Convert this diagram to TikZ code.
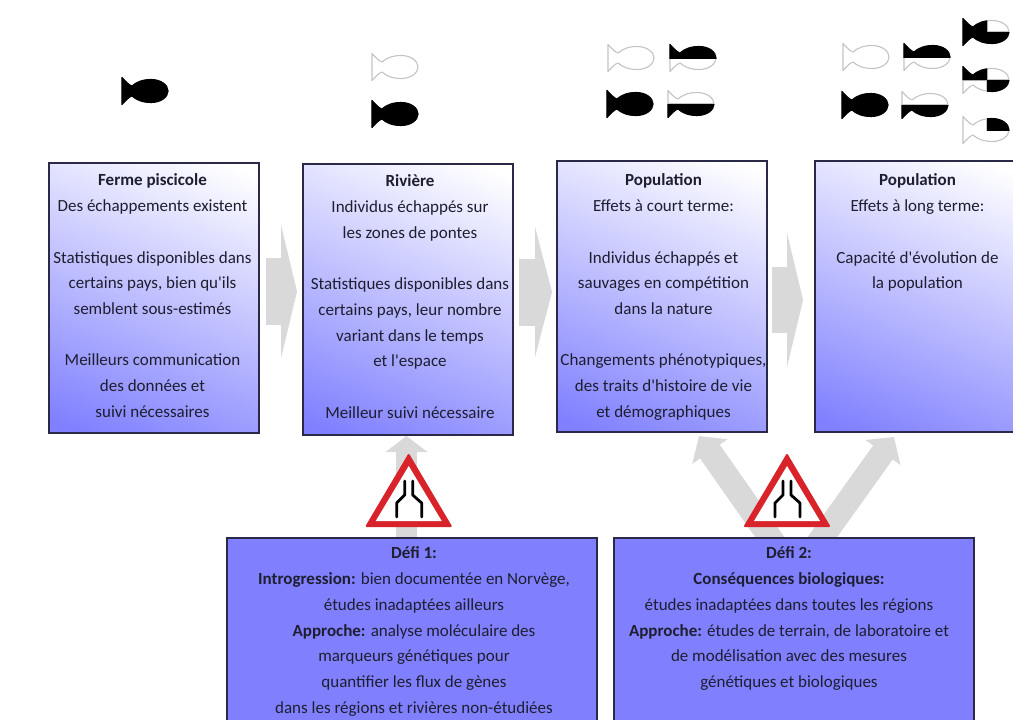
\documentclass[tikz,border=0pt]{standalone}
\usepackage{fontspec}
\setmainfont{Carlito}[Ligatures=TeXOff]
\usetikzlibrary{arrows.meta,backgrounds}
\definecolor{boxblue}{HTML}{8080FF}
\definecolor{edgeink}{HTML}{2A2A48}
\definecolor{txtink}{HTML}{1E1E30}
\definecolor{fatgray}{HTML}{D9D9D9}
\definecolor{fishgray}{HTML}{C4C4C4}
\definecolor{signred}{HTML}{D8232A}
\pgfdeclareverticalshading{boxgrad}{100bp}{color(0bp)=(boxblue); color(20bp)=(boxblue); color(80bp)=(white); color(100bp)=(white)}
\tikzset{
  gradbox/.style={draw=edgeink,line width=1.2pt,inner sep=0pt,outer sep=0pt,text=txtink,
    shading=boxgrad,shading angle=-22},
  flatbox/.style={draw=edgeink,line width=1.2pt,inner sep=0pt,outer sep=0pt,text=txtink,fill=boxblue},
  fat/.style n args={3}{draw=fatgray,line width=#1pt,-{Triangle[length=#2pt,width=#3pt,fill=fatgray]}},
  fishline/.style={draw=fishgray,line width=1.1pt},
}
\newcommand{\tb}[4][6pt]{\parbox[c][#2][t]{#3}{\centering\fontsize{17}{25.7}\selectfont\vspace*{#1}\strut #4}}
\newcommand{\fishpath}{(0,-13.5) .. controls (4,-9) and (7,-6) .. (10,-5) .. controls (14,-8.5) and (20,-11.5) .. (29,-11.5) .. controls (39,-11.5) and (46,-6) .. (46,0) .. controls (46,6) and (39,11.5) .. (29,11.5) .. controls (20,11.5) and (14,8.5) .. (10,5) .. controls (7,6) and (4,9) .. (0,13.5) -- cycle}
\newcommand{\fish}[3]{%
  \begin{scope}[shift={(#1,#2)}]
    \draw[fishline,line join=round] \fishpath;
    \begin{scope}\clip \fishpath; \draw[fishline] #3; \end{scope}
    \begin{scope}\clip #3; \filldraw[black,line width=1.1pt,line join=round] \fishpath; \end{scope}
  \end{scope}}
\newcommand{\sign}[1]{%
  \begin{scope}[shift={(#1,0)}]
    \fill[signred,draw=signred,line width=2pt,line join=round] (0,455) -- (-42,526) -- (42,526) -- cycle;
    \fill[white] (0,466) -- (-33,521) -- (33,521) -- cycle;
    \draw[black,line width=2.8pt,line cap=round,line join=round] (-4,481) -- (-4,495) -- (-12,503) -- (-12,517);
    \draw[black,line width=2.8pt,line cap=round,line join=round] (4,481) -- (4,495) -- (13,503) -- (13,517);
  \end{scope}}
\begin{document}
\begin{tikzpicture}[x=1pt,y=-1pt]
\useasboundingbox (0,0) rectangle (1013,720);
\node[gradbox,minimum width=210pt,minimum height=270pt] (box1) at (154,298) {\hbox to 210pt{\tb[4pt]{268pt}{207pt}{\textbf{Ferme piscicole}\\Des échappements existent\\~\\Statistiques disponibles dans\\certains pays, bien qu'ils\\semblent sous-estimés\\~\\Meilleurs communication\\des données et\\suivi nécessaires}\hss}};
\node[gradbox,minimum width=210pt,minimum height=271pt] (box2) at (408,299.5) {\hbox to 210pt{\hskip4pt\tb[4pt]{269pt}{206pt}{\textbf{Rivière}\\Individus échappés sur\\les zones de pontes\\~\\Statistiques disponibles dans\\certains pays, leur nombre\\variant dans le temps\\et l'espace\\~\\Meilleur suivi nécessaire}\hss}};
\node[gradbox,minimum width=210pt,minimum height=271pt] (box3) at (662,296.5) {\hbox to 210pt{\hskip3pt\tb{269pt}{207pt}{\textbf{Population}\\Effets à court terme:\\~\\Individus échappés et\\sauvages en compétition\\dans la nature\\~\\Changements phénotypiques,\\des traits d'histoire de vie\\et démographiques}\hss}};
\node[gradbox,minimum width=205pt,minimum height=271pt] (box4) at (917.5,296.5) {\tb{269pt}{203pt}{\textbf{Population}\\Effets à long terme:\\~\\Capacité d'évolution de\\la population}};
\node[flatbox,minimum width=370pt,minimum height=192pt] (defi1) at (412,634) {\hbox to 370pt{\hskip4pt\tb[2pt]{190pt}{366pt}{\textbf{Défi 1:}\\\textbf{Introgression:} bien documentée en Norvège,\\études inadaptées ailleurs\\\textbf{Approche:} analyse moléculaire des\\marqueurs génétiques pour\\quantifier les flux de gènes\\dans les régions et rivières non-étudiées}\hss}};
\node[flatbox,minimum width=360pt,minimum height=192pt] (defi2) at (794,634) {\hbox to 360pt{\tb[2pt]{190pt}{350pt}{\textbf{Défi 2:}\\\textbf{Conséquences biologiques:}\\études inadaptées dans toutes les régions\\\textbf{Approche:} études de terrain, de laboratoire et\\de modélisation avec des mesures\\génétiques et biologiques}\hss}};
\begin{scope}[on background layer]
  \fill[white] (0,0) rectangle (1013,720);
  \draw[fat={67}{16}{133},shorten <=7pt,shorten >=6pt] ([yshift=6.5pt]box1.east) -- ([yshift=8pt]box2.west);
  \draw[fat={67}{17}{130},shorten <=6pt,shorten >=5pt] ([yshift=7.5pt]box2.east) -- ([yshift=4.5pt]box3.west);
  \draw[fat={66}{16}{134},shorten <=5pt,shorten >=12pt] ([yshift=-3.5pt]box3.east) -- ([yshift=-3.5pt]box4.west);
  \draw[fat={21}{16}{41},shorten >=1pt] ([xshift=-5.5pt]defi1.north) -- ([xshift=-1.5pt]box2.south);
  \draw[fat={24}{19}{42}] ([xshift=-18pt,yshift=-8pt]defi2.north) -- ([xshift=37pt,yshift=-4pt]box3.south);
  \draw[fat={24}{19}{42}] ([xshift=22pt,yshift=-8pt]defi2.north) -- ([xshift=-23.5pt,yshift=-5pt]box4.south);
\end{scope}
\sign{408.7}
\sign{787}
\fish{122}{91}{(-2,-16) rectangle (48,16)}
\fish{372}{67}{(0,0) rectangle (0,0)}
\fish{372}{114}{(-2,-16) rectangle (48,16)}
\fish{608}{58}{(0,0) rectangle (0,0)}
\fish{670}{58}{(-2,-16) rectangle (48,0)}
\fish{607}{104}{(-2,-16) rectangle (48,16)}
\fish{668}{104}{(-2,0) rectangle (48,16)}
\fish{843}{57}{(0,0) rectangle (0,0)}
\fish{904}{57}{(-2,-16) rectangle (48,0)}
\fish{842}{105}{(-2,-16) rectangle (48,16)}
\fish{902}{105}{(-2,0) rectangle (48,16)}
\fish{963}{32}{(-2,-16) rectangle (24,0) (-2,0) rectangle (48,16)}
\fish{963}{80}{(-2,-16) rectangle (24,0) (24,0) rectangle (48,16)}
\fish{963}{130}{(24,-16) rectangle (48,0)}
\end{tikzpicture}
\end{document}
